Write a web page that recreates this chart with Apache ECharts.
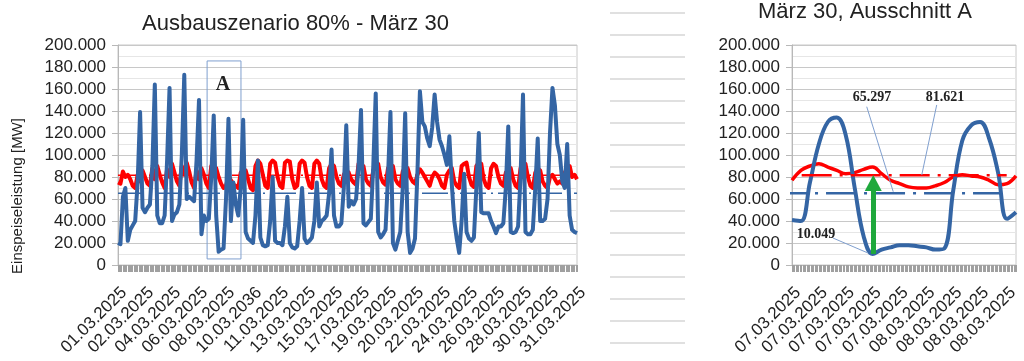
<!DOCTYPE html>
<html>
<head>
<meta charset="utf-8">
<script src="https://cdn.jsdelivr.net/npm/echarts@6/dist/echarts.min.js"></script>
<style>html,body{margin:0;padding:0;background:#fff}#c{width:1024px;height:361px}</style>
</head>
<body>
<div id="c"></div>
<script>
// ---------- DATA ----------
const leftTitle = 'Ausbauszenario 80% - März 30';
const rightTitle = 'März 30, Ausschnitt A';
const yAxisName = 'Einspeiseleistung [MW]';
const leftXLabels = ['01.03.2025','02.03.2025','04.03.2025','06.03.2025','08.03.2025','10.03.2036','11.03.2025','13.03.2025','15.03.2025','17.03.2025','19.03.2025','20.03.2025','22.03.2025','24.03.2025','26.03.2025','28.03.2025','30.03.2025','31.03.2025'];
const rightXLabels = ['07.03.2025','07.03.2025','07.03.2025','07.03.2025','07.03.2025','08.03.2025','08.03.2025','08.03.2025','08.03.2025'];
// Left chart: one value every ~4 hours (6 per day), 01.03 - 31.03
const leftBlue = [
 20000,19000,62000,70000,22000,32000,
 36000,40000,75000,139000,52000,48000,
 52000,55000,90000,164000,45000,38000,
 38000,45000,95000,161000,40000,46000,
 48000,55000,100000,173000,60000,62000,
 60000,58000,95000,150000,28000,45000,
 40000,42000,80000,136000,45000,12000,
 14000,15000,60000,133000,40000,75000,
 55000,45000,70000,132000,30000,24000,
 22000,20000,45000,95000,25000,18000,
 17000,18000,40000,80000,22000,20000,
 20000,18000,35000,62000,20000,16000,
 15000,17000,40000,70000,24000,20000,
 22000,25000,40000,75000,35000,40000,
 42000,45000,65000,105000,45000,35000,
 35000,38000,70000,127000,53000,58000,
 55000,60000,90000,141000,38000,36000,
 39000,42000,90000,156000,30000,25000,
 28000,32000,80000,139000,20000,14000,
 22000,30000,70000,138000,30000,11000,
 15000,24000,85000,158000,130000,126000,
 115000,108000,125000,155000,130000,114000,
 108000,100000,91000,117000,73000,40000,
 24000,11000,40000,83000,30000,24000,
 22000,25000,70000,120000,48000,47000,
 47000,47000,40000,35000,29000,35000,
 35000,38000,70000,126000,30000,29000,
 30000,35000,80000,155000,30000,28000,
 28000,32000,70000,115000,40000,40000,
 42000,60000,120000,161000,145000,110000,
 100000,76000,70000,110000,45000,32000,
 30000,29000
];
const leftRed = [
 75000,74000,85000,80000,82000,78000,
 72000,70000,82000,76000,86000,80000,
 74000,72000,88000,78000,90000,82000,
 75000,70000,87000,80000,92000,84000,
 76000,72000,90000,82000,93000,85000,
 75000,70000,86000,78000,88000,82000,
 74000,70000,90000,86000,88000,80000,
 74000,70000,72000,81000,77000,73000,
 72000,70000,84000,80000,86000,78000,
 70000,68000,90000,95000,92000,82000,
 72000,70000,92000,95000,93000,80000,
 72000,70000,93000,95000,94000,78000,
 70000,72000,92000,95000,93000,80000,
 72000,70000,92000,95000,92000,78000,
 72000,70000,88000,92000,90000,80000,
 74000,72000,82000,86000,84000,78000,
 75000,73000,92000,88000,90000,78000,
 74000,72000,86000,90000,92000,80000,
 75000,73000,88000,91000,90000,78000,
 74000,72000,85000,89000,88000,80000,
 76000,74000,82000,87000,84000,80000,
 76000,72000,80000,84000,82000,78000,
 72000,70000,82000,86000,88000,76000,
 72000,70000,90000,92000,93000,80000,
 73000,71000,90000,93000,92000,78000,
 72000,70000,88000,92000,90000,80000,
 74000,72000,84000,86000,88000,78000,
 72000,70000,88000,90000,92000,80000,
 72000,70000,84000,88000,86000,76000,
 72000,70000,80000,82000,78000,74000,
 76000,74000,84000,88000,90000,80000,
 82000,78000
];
// Right chart (detail A): one value every 1.5 hours
const rightBlue = [41000,40000,75000,110000,130000,134000,118000,70000,26000,10049,14000,16000,18000,18000,17000,16000,14000,15000,68000,113000,127000,130000,115000,84000,42000,48000];
const rightRed  = [77000,86000,90000,92000,89000,86000,83000,84000,87000,89000,83000,77000,74000,71000,70000,70000,72000,75000,80000,82000,81000,80000,77000,73000,74000,81000];
const meanBlue = 65297;
const meanRed = 81621;
const minBlue = 10049;

// ---------- CHART ----------
const BLUE = '#3465a4', RED = '#ff0000', GREEN = '#1fa83c';
const FONT = 'Liberation Sans';
const LEFT_STEP = 11, RIGHT_STEP = 3;
const leftMax = (leftXLabels.length - 1) * LEFT_STEP;
const rightMax = rightBlue.length - 1;
const pairs = arr => arr.map((v, i) => [i, v]);
const fmtY = v => String(v).replace(/\B(?=(\d{3})+(?!\d))/g, '.');

function yAxisCfg(gridIndex) {
  return {
    gridIndex, type: 'value', min: 0, max: 200000, interval: 20000,
    axisLine: { show: true, lineStyle: { color: '#b8b8b8' } },
    axisTick: { show: true, length: 6, lineStyle: { color: '#b8b8b8' } },
    axisLabel: { formatter: fmtY, fontFamily: FONT, fontSize: 17, color: '#222', margin: 12 },
    splitLine: { show: true, lineStyle: { color: '#c8c8c8', width: 1 } },
    minorTick: { show: false, splitNumber: 2 },
    minorSplitLine: { show: true, lineStyle: { color: '#e6e6e6', width: 1 } }
  };
}
function xAxisCfg(gridIndex, max, step, labels, minorSplit) {
  return {
    gridIndex, type: 'value', min: 0, max, interval: step,
    axisLine: { show: true, onZero: false, lineStyle: { color: '#b8b8b8' } },
    axisTick: { show: true, length: 7, lineStyle: { color: '#a0a0a0' } },
    minorTick: { show: true, splitNumber: minorSplit, length: 7, lineStyle: { color: '#a0a0a0' } },
    splitLine: { show: false },
    axisLabel: {
      rotate: 45, fontFamily: FONT, fontSize: 17, color: '#222', margin: 19,
      align: 'right', verticalAlign: 'top', showMaxLabel: true, showMinLabel: true,
      formatter: v => {
        const k = Math.round(v / step);
        return (Math.abs(v - k * step) < 1e-6 && k < labels.length) ? labels[k] : '';
      }
    }
  };
}
const annoText = (name, coord, fontSize) => ({
  name, coord, symbol: 'circle', symbolSize: 0,
  label: { show: true, position: 'inside', formatter: name, fontFamily: 'Liberation Serif', fontWeight: 'bold', fontSize, color: '#222' }
});
const leader = (a, b) => [{ coord: a }, { coord: b }];

const option = {
  animation: false,
  backgroundColor: '#ffffff',
  title: [
    { text: leftTitle, left: 142, top: 13, padding: 0, textStyle: { fontFamily: FONT, fontSize: 22, fontWeight: 'normal', color: '#222' } },
    { text: rightTitle, left: 758, top: 1, padding: 0, textStyle: { fontFamily: FONT, fontSize: 22, fontWeight: 'normal', color: '#222' } }
  ],
  graphic: [
    { type: 'text', x: 18, y: 196, rotation: Math.PI / 2,
      style: { text: yAxisName, font: '15px "Liberation Sans"', fill: '#222', textAlign: 'center', textVerticalAlign: 'middle', align: 'center', verticalAlign: 'middle' } }
  ],
  grid: [
    { left: 118, right: 447, top: 45, bottom: 96, show: true, borderColor: '#c8c8c8', borderWidth: 1 },
    { left: 792, right: 8, top: 45, bottom: 96, show: true, borderColor: '#c8c8c8', borderWidth: 1 },
    { left: 610, width: 75, top: 12.7, height: 330 }
  ],
  xAxis: [
    xAxisCfg(0, leftMax, LEFT_STEP, leftXLabels, 22),
    xAxisCfg(1, rightMax, RIGHT_STEP, rightXLabels, 20),
    { gridIndex: 2, type: 'value', min: 0, max: 1, show: false }
  ],
  yAxis: [
    yAxisCfg(0), yAxisCfg(1),
    { gridIndex: 2, type: 'value', min: 0, max: 15, interval: 1,
      axisLine: { show: false }, axisTick: { show: false }, axisLabel: { show: false },
      splitLine: { show: true, lineStyle: { color: '#e0e0e0', width: 2 } } }
  ],
  series: [
    // left chart dash-dot mean lines + box A
    { type: 'line', xAxisIndex: 0, yAxisIndex: 0, data: [[0, meanBlue], [leftMax, meanBlue]], symbol: 'none',
      lineStyle: { color: BLUE, width: 1.5, type: [26, 5, 2, 5] }, z: 1,
      markArea: { silent: true, itemStyle: { color: 'rgba(0,0,0,0)', borderColor: '#7f9fcf', borderWidth: 1 },
        data: [[{ coord: [36.3, 185500] }, { coord: [50.1, 5500] }]] },
      markPoint: { silent: true, data: [annoText('A', [42.8, 164000], 20)] } },
    { type: 'line', xAxisIndex: 0, yAxisIndex: 0, data: [[0, meanRed], [leftMax, meanRed]], symbol: 'none',
      lineStyle: { color: RED, width: 1.5, type: [26, 5, 2, 5] }, z: 1 },
    { type: 'line', xAxisIndex: 0, yAxisIndex: 0, data: pairs(leftRed), symbol: 'none',
      lineStyle: { color: RED, width: 4, join: 'round' }, z: 2 },
    { type: 'line', xAxisIndex: 0, yAxisIndex: 0, data: pairs(leftBlue), symbol: 'none',
      lineStyle: { color: BLUE, width: 4, join: 'round' }, z: 3 },
    // right chart
    { type: 'line', xAxisIndex: 1, yAxisIndex: 1, data: pairs(rightRed), symbol: 'none', smooth: 0.4,
      lineStyle: { color: RED, width: 3.5 }, z: 2 },
    { type: 'line', xAxisIndex: 1, yAxisIndex: 1, data: pairs(rightBlue), symbol: 'none', smooth: 0.4,
      lineStyle: { color: BLUE, width: 4 }, z: 3 },
    { type: 'line', xAxisIndex: 1, yAxisIndex: 1, data: [[1.08, meanRed], [23.96, meanRed]], symbol: 'none', clip: false,
      lineStyle: { color: RED, width: 2.5, type: [30, 8, 3, 8] }, z: 4 },
    { type: 'line', xAxisIndex: 1, yAxisIndex: 1, data: [[-1.67, meanBlue], [23.2, meanBlue]], symbol: 'none', clip: false,
      lineStyle: { color: BLUE, width: 2.5, type: [30, 8, 3, 8] }, z: 4,
      markLine: { silent: true, symbol: 'none', label: { show: false },
        lineStyle: { color: '#7f9fcf', width: 1, type: 'solid' },
        data: [
          leader([8.34, 143900], [11.3, 66600]),
          leader([16.15, 145500], [14.48, 81800]),
          leader([4.58, 24500], [8.48, 10900])
        ] },
      markPoint: { silent: true, data: [
        annoText(fmtY(meanBlue), [8.93, 152300], 14),
        annoText(fmtY(meanRed), [17.08, 152300], 14),
        annoText(fmtY(minBlue), [2.68, 27700], 14)
      ] } },
    // green arrow from min to mean level
    { type: 'line', xAxisIndex: 1, yAxisIndex: 1, data: [], symbol: 'none', z: 5,
      markLine: { silent: true, symbol: ['none', 'triangle'], symbolSize: [17, 16], label: { show: false },
        lineStyle: { color: GREEN, width: 5, type: 'solid' },
        data: [[{ coord: [9.07, minBlue] }, { coord: [9.07, 74500] }]] } },
    // spreadsheet cell lines (middle)
    { type: 'line', xAxisIndex: 2, yAxisIndex: 2, data: [] }
  ]
};
const chart = echarts.init(document.getElementById('c'), null, { renderer: 'canvas' });
chart.setOption(option);
</script>
</body>
</html>
